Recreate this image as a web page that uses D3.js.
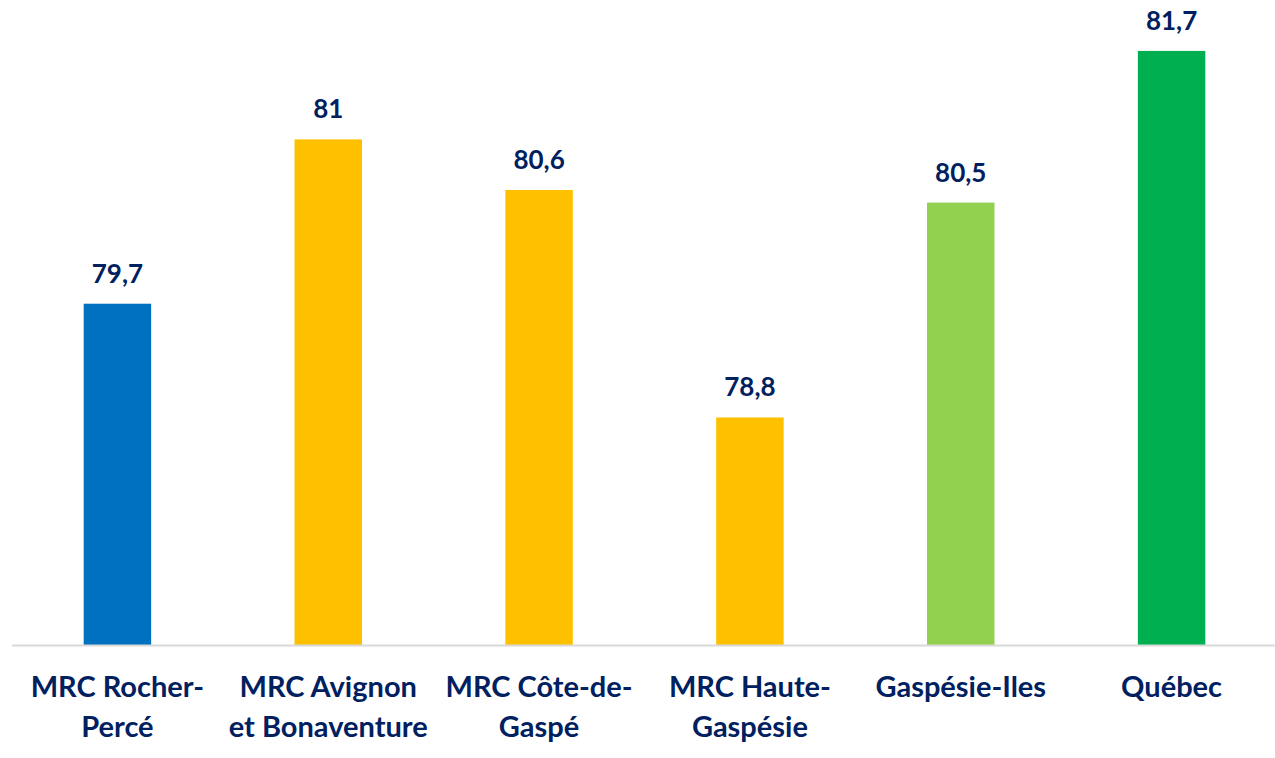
<!DOCTYPE html>
<html>
<head>
<meta charset="utf-8">
<script src="https://cdn.jsdelivr.net/npm/d3@7"></script>
<style>
  body { margin: 0; background: #fff; }
  text { font-family: Lato, "Open Sans", sans-serif; font-weight: bold; fill: #002060; }
</style>
</head>
<body>
<div id="chart"></div>
<script>
let categories = [
  ["MRC Rocher-", "Percé"],
  ["MRC Avignon", "et Bonaventure"],
  ["MRC Côte-de-", "Gaspé"],
  ["MRC Haute-", "Gaspésie"],
  ["Gaspésie-Iles"],
  ["Québec"]
];
let values = [79.7, 81, 80.6, 78.8, 80.5, 81.7];
let valueLabels = ["79,7", "81", "80,6", "78,8", "80,5", "81,7"];
let barColors = ["#0070c0", "#ffc000", "#ffc000", "#ffc000", "#92d050", "#00b050"];

let w = 1275;
let h = 758;

let svg = d3.select("#chart").append("svg")
  .attr("width", w)
  .attr("height", h);

let xScale = d3.scaleBand()
  .domain(d3.range(values.length))
  .range([12, 1277])
  .paddingInner(0.68)
  .paddingOuter(0.34);

let yScale = d3.scaleLinear()
  .domain([77, 82])
  .range([645, 13]);

// bars
svg.selectAll(".bar")
  .data(values)
  .enter()
  .append("rect")
  .attr("class", "bar")
  .attr("x", (d, i) => xScale(i))
  .attr("y", d => yScale(d))
  .attr("width", xScale.bandwidth())
  .attr("height", d => yScale(77) - yScale(d))
  .attr("fill", (d, i) => barColors[i]);

// baseline
svg.append("line")
  .attr("x1", 12)
  .attr("x2", 1275)
  .attr("y1", yScale(77) + 0.5)
  .attr("y2", yScale(77) + 0.5)
  .attr("stroke", "#d9d9d9")
  .attr("stroke-width", 2);

// value labels
svg.selectAll(".val")
  .data(values)
  .enter()
  .append("text")
  .attr("class", "val")
  .attr("x", (d, i) => xScale(i) + xScale.bandwidth() / 2)
  .attr("y", d => yScale(d) - 21)
  .attr("text-anchor", "middle")
  .style("font-size", "26px")
  .text((d, i) => valueLabels[i]);

// category labels
let cat = svg.selectAll(".cat")
  .data(categories)
  .enter()
  .append("text")
  .attr("class", "cat")
  .attr("x", (d, i) => xScale(i) + xScale.bandwidth() / 2)
  .attr("y", 697)
  .attr("text-anchor", "middle")
  .style("font-size", "29px");

cat.selectAll("tspan")
  .data(d => d)
  .enter()
  .append("tspan")
  .attr("x", function() { return d3.select(this.parentNode).attr("x"); })
  .attr("dy", (d, i) => i === 0 ? 0 : 40)
  .text(d => d);
</script>
</body>
</html>
